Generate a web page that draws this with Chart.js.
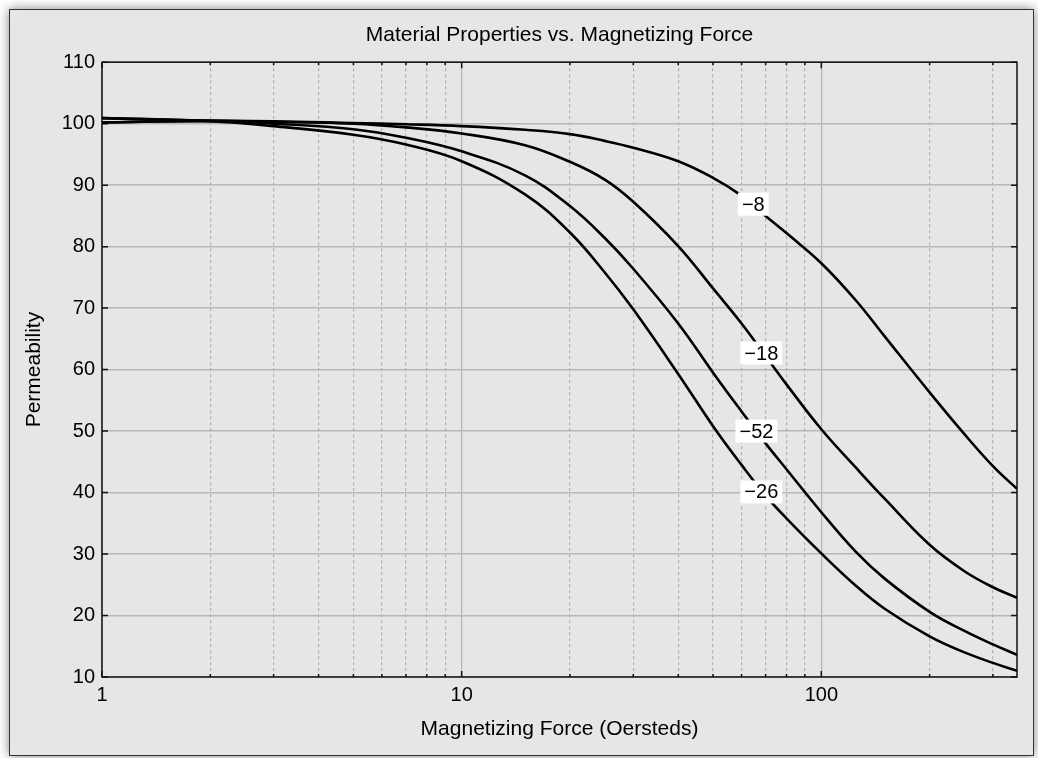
<!DOCTYPE html>
<html>
<head>
<meta charset="utf-8">
<script src="https://cdn.jsdelivr.net/npm/chart.js@4.4.1/dist/chart.umd.min.js"></script>
<style>
  html, body { margin: 0; padding: 0; background: #ffffff; }
  #frame {
    position: absolute; left: 9px; top: 9px; width: 1023px; height: 745px;
    background: #e6e6e6; border: 1.5px solid #333333;
    box-shadow: 0 0 10px rgba(0,0,0,0.5);
  }
  #wrap { position: absolute; left: 0; top: 0; width: 1038px; height: 758px; }
</style>
</head>
<body>
<div id="frame"></div>
<div id="wrap"><canvas id="mycanvas" width="1038" height="758"></canvas></div>
<script>
// magnetizing force (Oersteds)
var force = [1, 2, 3, 5, 7, 10, 15, 20, 25, 30, 40, 50, 60, 70, 80, 100, 125, 150, 200, 250, 300, 350];

// permeability, one list per curve
var perm8  = [100.2, 100.45, 100.4, 100.1, 99.9, 99.6, 99.0, 98.3, 97.2, 96.1, 93.9, 91.2, 88.3, 85.0, 82.2, 77.3, 71.2, 65.4, 56.3, 49.5, 44.3, 40.6];
var perm18 = [100.2, 100.45, 100.3, 100.0, 99.4, 98.4, 96.5, 93.8, 90.9, 87.3, 80.1, 73.2, 67.5, 62.2, 57.6, 50.3, 44.0, 39.0, 31.5, 27.2, 24.6, 22.9];
var perm52 = [100.9, 100.45, 100.0, 99.1, 97.7, 95.5, 91.6, 86.6, 81.4, 76.4, 67.5, 59.5, 53.2, 48.0, 43.8, 36.8, 30.3, 26.0, 20.6, 17.5, 15.3, 13.6];
var perm26 = [100.9, 100.4, 99.6, 98.2, 96.6, 93.9, 88.5, 82.3, 75.8, 69.8, 59.3, 50.8, 44.5, 39.5, 35.8, 30.1, 24.8, 21.1, 16.6, 14.0, 12.3, 11.0];

// curve labels
var curveNames  = ['\u22128', '\u221218', '\u221252', '\u221226'];
var curveLabelX = [64.7, 68.1, 66.0, 68.1];
var curveLabelY = [86.9, 62.7, 50.0, 40.1];

// axis ticks
var xTicks      = [1, 2, 3, 4, 5, 6, 7, 8, 9, 10, 20, 30, 40, 50, 60, 70, 80, 90, 100, 200, 300];
var xTickLabels = ['1', '', '', '', '', '', '', '', '', '10', '', '', '', '', '', '', '', '', '100', '', ''];
var yTicks      = [10, 20, 30, 40, 50, 60, 70, 80, 90, 100, 110];

function pairs(ys) {
  var out = [];
  for (var i in force) {
    out.push({x: force[i], y: ys[i]});
  }
  return out;
}

function isMajor(v) {
  var l = Math.log10(v);
  return Math.abs(l - Math.round(l)) < 1e-9;
}

var FONT = "'Liberation Sans', Arial, Helvetica, sans-serif";

var curveStyle = {
  fill: false,
  borderColor: '#000000',
  borderWidth: 2.6,
  pointRadius: 0,
  tension: 0.4
};

// box round the plot, inward tick marks, and the curve labels
var decorations = {
  id: 'decorations',
  beforeDatasetsDraw: function(chart) {
    var ctx = chart.ctx;
    var a = chart.chartArea;
    var xs = chart.scales.x;
    var ys = chart.scales.y;
    ctx.save();
    ctx.strokeStyle = '#111111';
    ctx.lineWidth = 1.5;
    ctx.beginPath();
    for (var i in xTicks) {
      var px = xs.getPixelForValue(xTicks[i]);
      var len = isMajor(xTicks[i]) ? 6 : 3;
      ctx.moveTo(px, a.bottom); ctx.lineTo(px, a.bottom - len);
      ctx.moveTo(px, a.top); ctx.lineTo(px, a.top + len);
    }
    for (var j in yTicks) {
      var py = ys.getPixelForValue(yTicks[j]);
      ctx.moveTo(a.left, py); ctx.lineTo(a.left + 6, py);
      ctx.moveTo(a.right, py); ctx.lineTo(a.right - 6, py);
    }
    ctx.stroke();
    ctx.strokeRect(a.left, a.top, a.right - a.left, a.bottom - a.top);
    ctx.restore();
  },
  afterDatasetsDraw: function(chart) {
    var ctx = chart.ctx;
    var xs = chart.scales.x;
    var ys = chart.scales.y;
    ctx.save();
    ctx.font = '20px ' + FONT;
    ctx.textAlign = 'center';
    ctx.textBaseline = 'middle';
    for (var i in curveNames) {
      var cx = xs.getPixelForValue(curveLabelX[i]);
      var cy = ys.getPixelForValue(curveLabelY[i]);
      var w = ctx.measureText(curveNames[i]).width + 8;
      ctx.fillStyle = '#ffffff';
      ctx.fillRect(cx - w / 2, cy - 11.5, w, 23);
      ctx.fillStyle = '#000000';
      ctx.fillText(curveNames[i], cx, cy + 1);
    }
    ctx.restore();
  }
};

var graphdata = {
  datasets: [
    Object.assign({label: curveNames[0], data: pairs(perm8)}, curveStyle),
    Object.assign({label: curveNames[1], data: pairs(perm18)}, curveStyle),
    Object.assign({label: curveNames[2], data: pairs(perm52)}, curveStyle),
    Object.assign({label: curveNames[3], data: pairs(perm26)}, curveStyle)
  ]
};

var ctx = document.getElementById('mycanvas');

var LineGraph = new Chart(ctx, {
  type: 'line',
  data: graphdata,
  plugins: [decorations],
  options: {
    responsive: false,
    animation: false,
    events: [],
    layout: { padding: { left: 11, right: 21, top: 11, bottom: 11 } },
    plugins: {
      legend: { display: false },
      tooltip: { enabled: false },
      title: {
        display: true,
        fullSize: false,
        text: 'Material Properties vs. Magnetizing Force',
        color: '#000000',
        font: { family: FONT, size: 21, weight: 'normal' },
        padding: { top: 12, bottom: 14 }
      }
    },
    scales: {
      x: {
        type: 'logarithmic',
        min: 1,
        max: 350,
        afterBuildTicks: function(scale) {
          scale.ticks = xTicks.map(function(v) { return {value: v, major: isMajor(v)}; });
        },
        afterFit: function(scale) { scale.height = 70; },
        ticks: {
          autoSkip: false,
          maxRotation: 0,
          padding: 6,
          color: '#000000',
          font: { family: FONT, size: 20 },
          callback: function(value, index) { return xTickLabels[index]; }
        },
        grid: {
          drawTicks: false,
          lineWidth: 1.2,
          color: function(c) { return c.tick && isMajor(c.tick.value) ? '#b4b4b4' : '#b0b0b0'; }
        },
        border: {
          display: false,
          dash: function(c) { return c.tick && isMajor(c.tick.value) ? [] : [3, 3]; }
        },
        title: {
          display: true,
          text: 'Magnetizing Force (Oersteds)',
          color: '#000000',
          font: { family: FONT, size: 21 },
          padding: { top: 0, bottom: 5 }
        }
      },
      y: {
        type: 'linear',
        min: 10,
        max: 110,
        afterFit: function(scale) { scale.width = 91; },
        afterBuildTicks: function(scale) {
          scale.ticks = yTicks.map(function(v) { return {value: v}; });
        },
        ticks: {
          padding: 7,
          color: '#000000',
          font: { family: FONT, size: 20 }
        },
        grid: {
          drawTicks: false,
          lineWidth: 1.5,
          color: '#b8b8b8'
        },
        border: { display: false },
        title: {
          display: true,
          text: 'Permeability',
          color: '#000000',
          font: { family: FONT, size: 21 },
          padding: { top: 11, bottom: 0 }
        }
      }
    }
  }
});
</script>
</body>
</html>
